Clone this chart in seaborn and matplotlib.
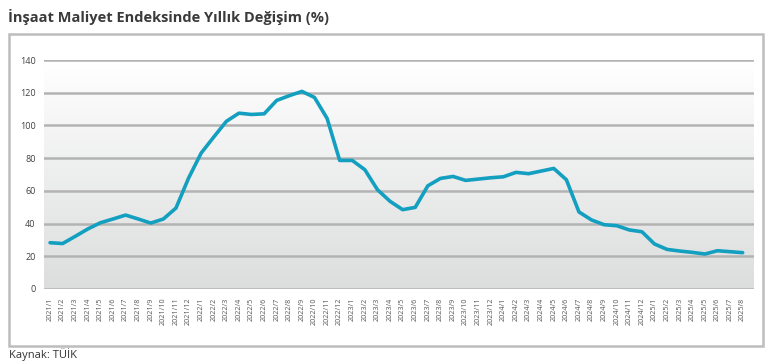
import numpy as np
import pandas as pd
import matplotlib
matplotlib.use('Agg')
import matplotlib.pyplot as plt
import seaborn as sns
from matplotlib.patches import Rectangle

# Dönemler: 2021/1 - 2025/8
years = [2021] * 12 + [2022] * 12 + [2023] * 12 + [2024] * 12 + [2025] * 8
months = list(range(1, 13)) * 4 + list(range(1, 9))
donem = [f"{y}/{m}" for y, m in zip(years, months)]

# Yıllık değişim (%)
degisim = [
    28.3, 27.8, 32.2, 36.7, 40.5, 42.8, 45.2, 42.8, 40.3, 42.8, 49.5, 67.8,
    83.1, 92.9, 102.5, 107.5, 106.7, 107.1, 115.3, 118.2, 120.8, 117.1, 104.3, 78.6,
    78.6, 72.9, 60.7, 53.6, 48.5, 49.9, 63.1, 67.6, 68.8, 66.4, 67.2, 68.0,
    68.6, 71.3, 70.5, 72.1, 73.7, 66.8, 47.1, 42.2, 39.3, 38.7, 36.1, 35.0,
    27.5, 24.2, 23.2, 22.4, 21.4, 23.4, 22.8, 22.2,
]
y_ticks = [0, 20, 40, 60, 80, 100, 120, 140]

df = pd.DataFrame({'donem': donem, 'degisim': degisim})
df['idx'] = range(len(df))

sns.set_theme(style="white")
plt.rcParams['font.family'] = ['Open Sans', 'DejaVu Sans']

fig = plt.figure(figsize=(7.7, 3.63), dpi=100)
W, H = 770, 363
ax = fig.add_axes([44 / W, 1 - 289 / H, (754 - 44) / W, (289 - 60) / H])

# Çerçeve
fig.patches.append(Rectangle((9 / W, 1 - 346 / H), (763 - 9) / W, (346 - 34) / H,
                             transform=fig.transFigure, fill=False,
                             edgecolor='#bdbdbd', lw=1.8, zorder=0))

xmin, xmax = -0.48, 55.9
# Arka plan gradyanı (üst beyaz, alt gri)
grad = np.linspace(0, 1, 256).reshape(-1, 1)
cmap = matplotlib.colors.LinearSegmentedColormap.from_list('g', ['#dcdddd', '#ffffff'])
ax.imshow(grad, aspect='auto', cmap=cmap, extent=(xmin, xmax, 140, 0),
          origin='upper', zorder=0)

for t in y_ticks:
    ax.axhline(t, color='#b3b3b3', lw=1.8, zorder=1)

sns.lineplot(data=df, x='idx', y='degisim', ax=ax, color='#139fc0', lw=2.6, zorder=3)

ax.set_xlim(xmin, xmax)
ax.set_ylim(0, 140)
ax.set_yticks(y_ticks)
ax.set_yticklabels([str(t) for t in y_ticks], fontsize=6.5, color='#404040')
ax.set_xticks(df['idx'])
ax.set_xticklabels(df['donem'], rotation=90, fontsize=5.2, color='#555555')
ax.tick_params(axis='y', length=0, pad=6)
ax.tick_params(axis='x', length=0, pad=6)
ax.set_xlabel('')
ax.set_ylabel('')
for s in ax.spines.values():
    s.set_visible(False)

fig.text(8 / W, 1 - 17 / H, 'İnşaat Maliyet Endeksinde Yıllık Değişim (%)',
         fontsize=10.5, fontweight='bold', color='#3a3a3a', va='center', ha='left')
fig.text(9 / W, 1 - 355 / H, 'Kaynak: TÜİK', fontsize=8, color='#333333',
         va='center', ha='left')

fig.savefig('out.png', dpi=100)
